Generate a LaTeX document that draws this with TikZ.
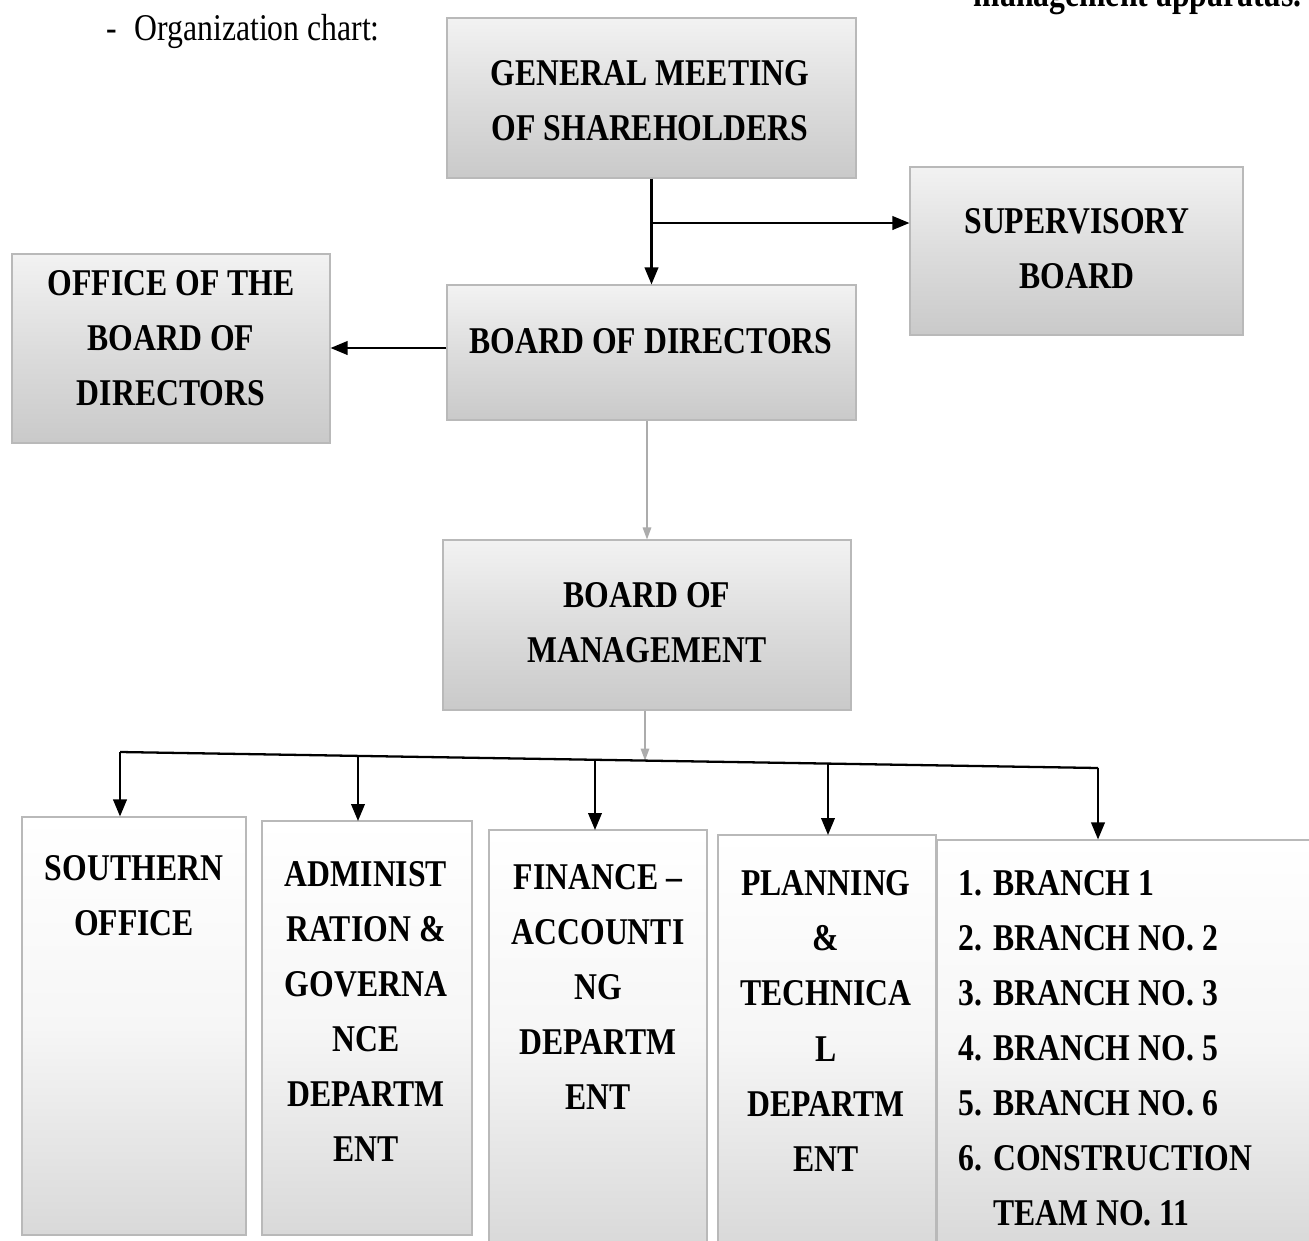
\documentclass[tikz,border=0pt]{standalone}
\usepackage{fontspec}
\setmainfont{Liberation Serif}[FakeStretch=0.84]
\usetikzlibrary{arrows.meta,fit,calc}
\tikzset{
  box/.style={draw=gray!55, line width=0.6pt, inner sep=0pt},
  topbox/.style={box, top color=gray!10, bottom color=gray!42, middle color=gray!27},
  lowbox/.style={box, top color=white, bottom color=gray!30, middle color=gray!7},
  lbl/.style={font=\bfseries\fontsize{21.5}{31.35}\selectfont, align=center, inner sep=0pt},
  arr/.style={line width=1.3pt, -{Triangle[length=0.34cm,width=0.27cm]}},
  garr/.style={gray!65, line width=0.8pt, -{Triangle[length=0.24cm,width=0.17cm]}},
}
\newcommand\numbox[1]{\makebox[19.8pt][l]{#1}}
\begin{document}
\begin{tikzpicture}[x=0.02cm,y=-0.02cm]
\useasboundingbox (0,0) rectangle (1309,1241);
\fill[white] (0,0) rectangle (1309,1241);

% clipped heading line and intro
\begin{scope}
  \clip (0,0) rectangle (1309,1241);
  \node[anchor=base east, font=\bfseries\fontsize{21.5}{26}\selectfont, inner sep=0pt] (head) at (1302,6) {management apparatus.};
\end{scope}
\node[anchor=base west, font=\fontsize{21.5}{26}\selectfont, inner sep=0pt] (intro) at (106,40) {-\hspace{10pt}Organization chart:};

% boxes
\node[topbox, fit={(447,18) (856,178)}] (gms) {};
\node[topbox, fit={(910,167) (1243,335)}] (sup) {};
\node[topbox, fit={(12,254) (330,443)}] (off) {};
\node[topbox, fit={(447,285) (856,420)}] (bod) {};
\node[topbox, fit={(443,540) (851,710)}] (bom) {};
\node[lowbox, fit={(22,817) (246,1235)}] (sou) {};
\node[lowbox, fit={(262,821) (472,1235)}] (adm) {};
\node[lowbox, fit={(489,830) (707,1245)}] (fin) {};
\node[lowbox, fit={(718,835) (936,1245)}] (pla) {};
\node[lowbox, fit={(937,840) (1312,1245)}] (bra) {};

% labels
\node[lbl] (gmsT) at (650,100.5) {GENERAL MEETING\\OF SHAREHOLDERS};
\node[lbl] (supT) at (1077,248.5) {SUPERVISORY\\BOARD};
\node[lbl] (offT) at (171,338) {OFFICE OF THE\\BOARD OF\\DIRECTORS};
\node[lbl] (bodT) at (651,341) {BOARD OF DIRECTORS};
\node[lbl] (bomT) at (647,622.5) {BOARD OF\\MANAGEMENT};
\node[lbl] (souT) at (134,895.5) {SOUTHERN\\OFFICE};
\node[lbl] (admT) at (366,1011.5) {ADMINIST\\RATION \&\\GOVERNA\\NCE\\DEPARTM\\ENT};
\node[lbl] (finT) at (598,987) {FINANCE --\\ACCOUNTI\\NG\\DEPARTM\\ENT};
\node[lbl] (plaT) at (826,1021) {PLANNING\\\&\\TECHNICA\\L\\DEPARTM\\ENT};
\node[lbl, align=left, anchor=west] (braT) at (958,1048) {\numbox{1.}BRANCH 1\\\numbox{2.}BRANCH NO. 2\\\numbox{3.}BRANCH NO. 3\\\numbox{4.}BRANCH NO. 5\\\numbox{5.}BRANCH NO. 6\\\numbox{6.}CONSTRUCTION\\\numbox{}TEAM NO. 11};

% connectors
\coordinate (j1) at (651,223);
\draw[arr] (gms) -- (bod);
\draw[arr] (j1) -- (sup.west |- j1);
\draw[arr] (bod.west |- 0,348) -- (off.east |- 0,348);
\draw[garr] (bom.north |- bod.south) -- (bom.north);
\coordinate (busL) at (120,752);
\coordinate (busR) at (1098,768);
\coordinate (busM) at (645,760.6);
\draw[garr] (busM |- bom.south) -- (busM);
\draw[line width=1.3pt] (busL) -- (busR);
\draw[arr] (busL) -- (busL |- sou.north);
\draw[arr] (358,756) -- (358,821);
\draw[arr] (595,760) -- (595,830);
\draw[arr] (828,763.7) -- (828,835);
\draw[arr] (busR) -- (busR |- bra.north);
\end{tikzpicture}
\end{document}
